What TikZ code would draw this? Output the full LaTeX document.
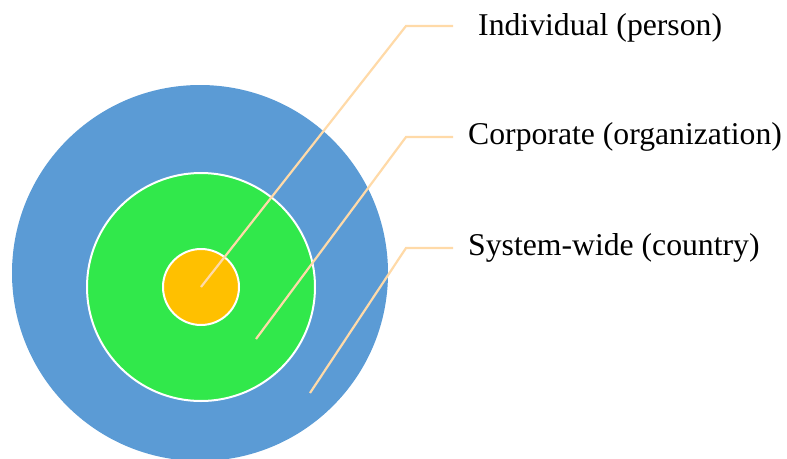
\documentclass[tikz,border=0pt]{standalone}
\usepackage{fontspec}
\setmainfont{Liberation Serif}
\usetikzlibrary{positioning}
\definecolor{sysblue}{RGB}{91,155,213}
\definecolor{corpgreen}{RGB}{49,232,75}
\definecolor{indyellow}{RGB}{255,192,0}
\definecolor{leadercol}{RGB}{255,218,168}

\begin{document}
\begin{tikzpicture}[x=1pt,y=-1pt]
  \tikzstyle{ring}=[circle,draw=white,line width=2pt,inner sep=0pt]
  \tikzstyle{leader}=[draw=leadercol,line width=2.2pt]
  \tikzstyle{tag}=[anchor=west,inner sep=0pt,text=black,
                   font=\fontsize{31.7}{38}\selectfont]

  \useasboundingbox (0,0) rectangle (787,458);
  \clip (0,0) rectangle (787,458);

  % the three rings
  \node[ring,fill=sysblue,draw=none,minimum size=376pt] (sys) at (200,273) {};
  \node[ring,fill=corpgreen,minimum size=228pt]  (corp) at (201,287) {};
  \node[ring,fill=indyellow,minimum size=76pt]   (ind)  at (201,287) {};

  % leader points
  \coordinate (corp pt)   at (256,339);
  \coordinate (sys pt)    at (310,393);
  \coordinate (ind bend)  at (406,26);
  \coordinate (corp bend) at (406,137);
  \coordinate (sys bend)  at (406,248);
  \coordinate (ind end)   at (453,26);
  \coordinate (corp end)  at (453,137);
  \coordinate (sys end)   at (453,248);

  \node[tag] (ind lab)  at (478,28)  {Individual (person)};
  \node[tag] (corp lab) at (468,137) {Corporate (organization)};
  \node[tag] (sys lab)  at (468,248) {System-wide (country)};

  \draw[leader] (ind.center) -- (ind bend) -- (ind end);
  \draw[leader] (corp pt) -- (corp bend) -- (corp end);
  \draw[leader] (sys pt) -- (sys bend) -- (sys end);
\end{tikzpicture}
\end{document}
